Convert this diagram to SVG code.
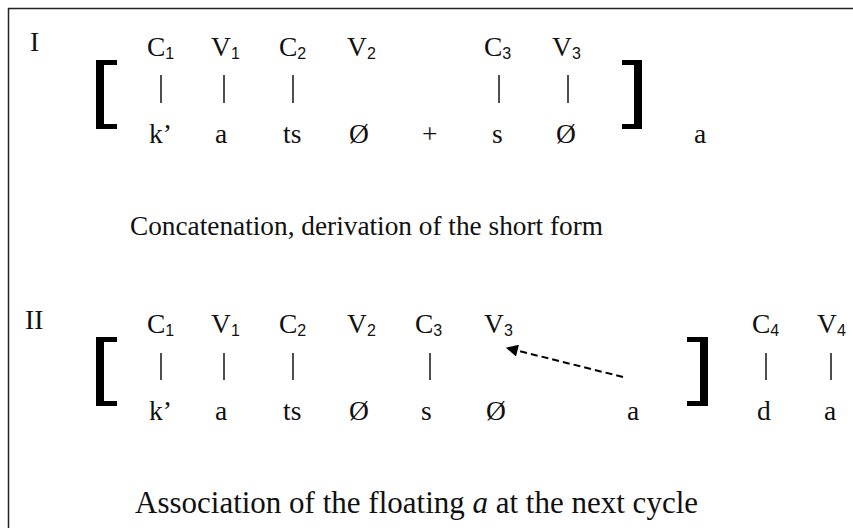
<svg xmlns="http://www.w3.org/2000/svg" width="853" height="528" viewBox="0 0 853 528">
<defs>
<style>
text{font-family:"Liberation Serif","Times New Roman",serif;font-size:27.5px;fill:#111}
.sub{font-size:16px;font-family:"Liberation Sans","Open Sans",sans-serif}
.cap1{font-size:27.3px}
.cap2{font-size:31px}
.bar{stroke:#222;stroke-width:1.6}
.br{fill:#000}
.arrow{stroke:#000;stroke-width:2;stroke-dasharray:7,4;fill:none}
</style>
<marker id="ah" viewBox="0 0 10 10" refX="9" refY="5" markerWidth="6.5" markerHeight="6" orient="auto" markerUnits="strokeWidth">
<path d="M0,0 L10,5 L0,10 z" fill="#000"/>
</marker>
</defs>
<rect width="853" height="528" fill="#fff"/>
<g id="frame"><line x1="8" y1="8.5" x2="853" y2="8.5" stroke="#222" stroke-width="1.5"/><line x1="8.5" y1="8" x2="8.5" y2="528" stroke="#222" stroke-width="1.5"/></g>

<g id="row1">
<text x="30" y="51">I</text>
<g id="r1-top">
<text x="147" y="56">C<tspan class="sub" dy="3">1</tspan></text>
<text x="211" y="56">V<tspan class="sub" dy="3">1</tspan></text>
<text x="279" y="56">C<tspan class="sub" dy="3">2</tspan></text>
<text x="347" y="56">V<tspan class="sub" dy="3">2</tspan></text>
<text x="484" y="56">C<tspan class="sub" dy="3">3</tspan></text>
<text x="552" y="56">V<tspan class="sub" dy="3">3</tspan></text>
</g>
<g id="r1-bottom">
<text x="149" y="143">k’</text>
<text x="215" y="143">a</text>
<text x="283" y="143">ts</text>
<text x="349" y="143">Ø</text>
<text x="422" y="143">+</text>
<text x="492" y="143">s</text>
<text x="556" y="143">Ø</text>
<text x="694" y="143">a</text>
</g>
<g id="r1-brackets" class="br">
<rect x="96" y="60" width="8" height="69"/><rect x="96" y="60" width="21" height="5"/><rect x="96" y="124" width="21" height="5"/>
<rect x="634" y="60" width="8" height="69"/><rect x="622" y="60" width="20" height="5"/><rect x="622" y="124" width="20" height="5"/>
</g>
<text class="cap1" x="130" y="235">Concatenation, derivation of the short form</text>
</g>

<g id="row2">
<text x="25" y="329">II</text>
<g id="r2-top">
<text x="147" y="333">C<tspan class="sub" dy="3">1</tspan></text>
<text x="211" y="333">V<tspan class="sub" dy="3">1</tspan></text>
<text x="279" y="333">C<tspan class="sub" dy="3">2</tspan></text>
<text x="347" y="333">V<tspan class="sub" dy="3">2</tspan></text>
<text x="415" y="333">C<tspan class="sub" dy="3">3</tspan></text>
<text x="484" y="333">V<tspan class="sub" dy="3">3</tspan></text>
<text x="752" y="333">C<tspan class="sub" dy="3">4</tspan></text>
<text x="817" y="333">V<tspan class="sub" dy="3">4</tspan></text>
</g>
<g id="r2-bottom">
<text x="149" y="420">k’</text>
<text x="215" y="420">a</text>
<text x="283" y="420">ts</text>
<text x="349" y="420">Ø</text>
<text x="421" y="420">s</text>
<text x="486" y="420">Ø</text>
<text x="627" y="420">a</text>
<text x="757" y="420">d</text>
<text x="824" y="420">a</text>
</g>
<g id="r2-brackets" class="br">
<rect x="96" y="337" width="8" height="69"/><rect x="96" y="337" width="21" height="5"/><rect x="96" y="401" width="21" height="5"/>
<rect x="700" y="337" width="8" height="69"/><rect x="687" y="337" width="21" height="5"/><rect x="687" y="401" width="21" height="5"/>
</g>
<text class="cap2" x="135" y="513">Association of the floating <tspan font-style="italic">a</tspan> at the next cycle</text>
</g>

<g id="connectors">
<line class="bar" x1="161" y1="75" x2="161" y2="103"/>
<line class="bar" x1="224" y1="75" x2="224" y2="103"/>
<line class="bar" x1="293" y1="75" x2="293" y2="103"/>
<line class="bar" x1="499" y1="75" x2="499" y2="103"/>
<line class="bar" x1="568" y1="75" x2="568" y2="103"/>
<line class="bar" x1="161" y1="353" x2="161" y2="380"/>
<line class="bar" x1="224" y1="353" x2="224" y2="380"/>
<line class="bar" x1="293" y1="353" x2="293" y2="380"/>
<line class="bar" x1="430" y1="353" x2="430" y2="380"/>
<line class="bar" x1="766" y1="353" x2="766" y2="380"/>
<line class="bar" x1="831" y1="353" x2="831" y2="380"/>
<line class="arrow" x1="623" y1="377" x2="507" y2="348" marker-end="url(#ah)"/>
</g>
</svg>
